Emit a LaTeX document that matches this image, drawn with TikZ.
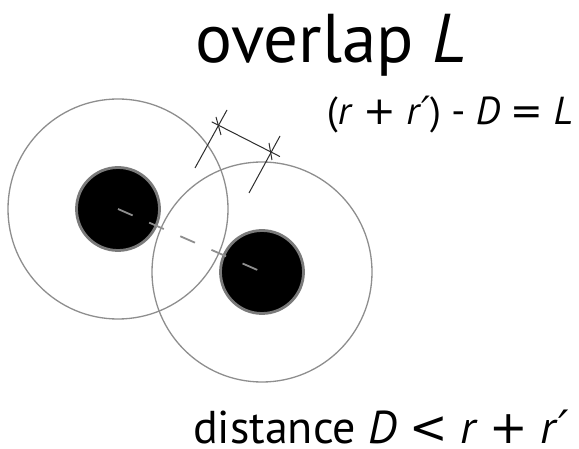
\documentclass[tikz,border=0pt]{standalone}
\usepackage{fontspec}
\setmainfont{PT Sans}
\newfontfamily\signfont{DejaVu Sans}
\usetikzlibrary{positioning}
\definecolor{ringGray}{HTML}{8E8E8E}
\definecolor{rimGray}{HTML}{7A7A7A}
\definecolor{guideInk}{HTML}{2E2E2E}
\newcommand{\sgn}[1]{{\signfont\fontseries{m}\selectfont #1}}
\newcommand{\prm}{{\signfont\itshape ′}}

\begin{document}
\begin{tikzpicture}[x=1pt, y=-1pt,
    reach/.style={
      circle, draw=ringGray, line width=1.3pt,
      minimum size=220pt, inner sep=0pt
    },
    core/.style={
      circle, draw=rimGray, fill=black, line width=2.8pt,
      minimum size=83pt, inner sep=0pt
    },
    gapline/.style={
      draw=ringGray, line width=1.8pt, dash pattern=on 16pt off 18pt
    },
    guide/.style={draw=guideInk, line width=1pt},
    headline/.style={anchor=base west, inner sep=0pt,
      font=\fontsize{69}{74}\selectfont},
    eqn/.style={anchor=base east, inner sep=0pt,
      font=\fontsize{39}{44}\selectfont},
    eqnbig/.style={anchor=base east, inner sep=0pt,
      font=\fontsize{46}{50}\selectfont}
  ]
  \fill[white] (0,0) rectangle (579,449);
  \useasboundingbox (0,0) rectangle (579,449);

  % the two reach circles
  \node[reach] (reachA) at (118,209) {};
  \node[reach] (reachB) at (262,272) {};
  % the two particles
  \node[core] (discA) at (118,209) {};
  \node[core] (discB) at (262,272) {};
  % centre distance D
  \draw[gapline] (discA.center) -- (discB.center);

  % measuring the overlap L
  \coordinate (markA) at (218,125);
  \coordinate (markB) at (271,152);
  \coordinate (footA) at (195,168);
  \coordinate (headA) at (227,110);
  \coordinate (footB) at (249,193);
  \coordinate (headB) at (280,136);
  \draw[guide, shorten <=-7pt, shorten >=-10pt] (markA) -- (markB);
  \draw[guide] (footA) -- (headA);
  \draw[guide] (footB) -- (headB);
  \draw[guide] (markA) ++(-2,-8) -- ++(5,18);
  \draw[guide] (markB) ++(-2,-9) -- ++(3,17);

  % labels
  \node[headline] (title) at (195,63) {overlap \textit{L}};
  \node[eqn] (overlapEq) at (573,125)
    {(\textit{r} \sgn{+} \textit{r}\prm) - \textit{D} \sgn{=} \textit{L}};
  \node[eqnbig] (distanceEq) at (569,443)
    {distance \textit{D} \sgn{<} \textit{r} \sgn{+} \textit{r}\prm};
\end{tikzpicture}
\end{document}
